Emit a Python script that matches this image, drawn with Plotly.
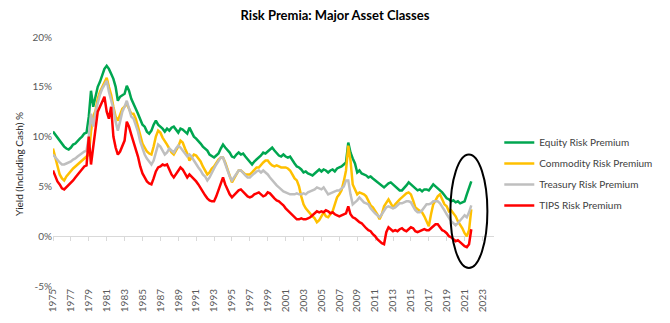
import pandas as pd
import plotly.graph_objects as go

# Quarterly observations, Jan 1975 .. Oct 2021
dates = pd.date_range("1975-01-01", "2021-10-01", freq="QS")

equity = [
    10.5, 10.2, 9.8, 9.6, 9.3, 9.0, 8.8, 8.7, 8.9, 9.2, 9.3, 9.6, 9.8, 10.0, 10.3, 10.4,
    12.0, 14.6, 13.0, 14.0, 15.0, 15.5, 16.2, 16.8, 17.1, 16.8, 16.3, 15.8, 15.0, 13.6, 14.0, 14.2,
    14.3, 15.1, 14.6, 13.8, 13.2, 12.8, 12.3, 11.8, 11.2, 11.0, 10.5, 10.3, 10.6, 11.2, 11.6, 11.2,
    11.0, 10.8, 10.5, 10.8, 10.6, 10.9, 11.0, 10.7, 10.4, 10.8, 10.7, 10.5, 10.3, 10.9, 10.4, 10.0,
    9.8, 9.6, 9.3, 9.0, 8.8, 8.6, 8.2, 8.0, 7.9, 8.1, 8.3, 8.8, 9.2, 8.9, 8.7, 8.4,
    8.0, 7.9, 8.2, 8.4, 8.2, 8.3, 8.0, 7.7, 7.4, 7.2, 7.5, 7.7, 7.9, 8.1, 8.4, 8.3,
    8.5, 8.7, 8.9, 8.6, 8.3, 8.1, 8.0, 8.2, 8.0, 7.9, 8.0, 7.6, 7.3, 7.0, 6.9, 6.7,
    6.4, 6.5, 6.3, 6.2, 6.1, 6.3, 6.5, 6.7, 6.5, 6.7, 6.6, 6.4, 6.6, 6.7, 6.5, 6.8,
    6.9, 7.0, 7.2, 7.4, 9.4, 8.4, 7.8, 7.3, 6.4, 6.6, 6.3, 6.2, 6.1, 5.9, 6.0, 5.8,
    5.6, 5.4, 5.2, 5.0, 4.9, 5.1, 5.3, 5.4, 5.2, 5.0, 4.8, 4.6, 4.6, 4.8, 5.1, 5.4,
    5.2, 5.0, 4.8, 4.6, 4.7, 4.5, 4.7, 4.7, 4.6, 4.9, 5.2, 5.0, 4.8, 4.6, 4.4, 4.1,
    3.8, 3.7, 3.5, 3.6, 3.4, 3.5, 3.3, 3.4, 3.5, 4.2, 4.9, 5.5,
]

commodity = [
    8.8, 8.0, 7.0, 6.2, 5.8, 5.6, 6.0, 6.3, 6.5, 6.8, 7.0, 7.2, 7.4, 7.6, 7.8, 8.0,
    8.2, 10.5, 12.0, 12.6, 13.8, 14.5, 15.0, 15.5, 15.9, 15.0, 14.2, 13.0, 12.0, 11.6, 12.2, 12.8,
    13.0, 13.3, 12.8, 12.3, 12.3, 11.8, 11.0, 10.0, 9.3, 8.9, 8.5, 8.3, 8.2, 9.0, 10.0, 10.6,
    10.4, 9.9, 9.6, 9.2, 8.8, 8.4, 8.2, 8.6, 9.0, 9.6, 9.4, 8.8, 8.3, 7.6, 7.9, 8.2,
    8.1, 7.8, 7.5, 7.0, 6.6, 6.2, 6.4, 6.8, 7.0, 7.4, 7.7, 7.9, 7.9, 7.4, 6.8, 6.0,
    5.4, 5.8, 6.2, 6.6, 6.6, 6.4, 6.2, 6.2, 6.2, 6.4, 6.6, 6.9, 6.9, 7.2, 7.4, 7.6,
    7.6, 7.3, 7.1, 7.0, 7.1, 7.0, 6.9, 6.9, 6.9, 6.8, 6.6, 6.2, 5.8, 5.6, 5.0, 4.0,
    3.2, 2.8, 2.5, 2.2, 2.0, 1.8, 1.4, 1.6, 2.0, 2.4, 2.0, 1.9, 2.2, 2.5, 3.2, 3.9,
    4.2, 4.6, 5.5, 6.6, 9.1, 7.6, 5.2, 4.6, 4.2, 4.4, 4.3, 4.2, 4.0, 3.6, 3.1, 2.9,
    2.6, 2.2, 1.7, 2.2, 3.0, 3.4, 3.7, 3.3, 2.9, 3.2, 3.5, 3.7, 3.9, 4.1, 4.3, 4.4,
    4.2, 3.6, 2.9, 2.7, 2.5, 2.4, 2.0, 1.5, 1.0, 2.2, 3.2, 3.6, 4.0, 4.2, 3.7, 3.2,
    3.0, 2.5, 2.6, 2.3, 2.0, 1.5, 1.2, 0.8, 0.3, 0.0, 0.6, 2.7,
]

treasury = [
    8.2, 7.9, 7.6, 7.4, 7.2, 7.2, 7.3, 7.4, 7.5, 7.7, 7.8, 8.0, 8.2, 8.3, 8.5, 8.6,
    10.0, 12.3, 11.0, 12.5, 13.5, 14.2, 14.8, 15.2, 15.6, 14.5, 13.6, 12.8, 11.5, 10.6, 11.5, 12.5,
    13.0, 13.6, 12.8, 12.0, 11.8, 11.2, 10.5, 9.5, 8.8, 8.2, 7.8, 7.5, 7.2, 7.6, 8.5, 9.2,
    9.0, 8.6, 8.2, 8.4, 8.8, 8.6, 8.4, 8.8, 9.1, 8.9, 8.6, 8.3, 8.0, 8.2, 8.0, 7.6,
    7.2, 6.9, 6.6, 6.2, 6.0, 5.6, 5.9, 6.4, 6.8, 7.2, 7.6, 7.9, 7.9, 7.2, 6.5, 6.0,
    5.6, 5.9, 6.3, 6.6, 6.6, 6.3, 6.1, 5.9, 5.9, 6.1, 6.3, 6.5, 6.6, 6.4, 6.6, 6.4,
    6.2, 5.9, 5.6, 5.3, 5.1, 4.9, 4.7, 4.5, 4.4, 4.3, 4.2, 4.2, 4.2, 4.3, 4.2, 4.2,
    4.3, 4.2, 4.4, 4.5, 4.6, 4.7, 4.9, 4.8, 4.7, 4.9, 4.5, 4.2, 4.3, 4.4, 4.5, 4.6,
    4.6, 4.8, 5.0, 5.6, 5.6, 4.2, 3.2, 3.4, 3.6, 3.9, 3.6, 3.4, 3.3, 3.2, 2.8, 2.5,
    2.3, 2.1, 1.9, 2.2, 2.6, 2.9, 3.0, 2.9, 2.8, 2.9, 3.1, 3.3, 3.3, 3.4, 3.5, 3.5,
    3.4, 3.0, 2.6, 2.4, 2.4, 2.6, 2.9, 3.2, 3.2, 3.3, 3.5, 3.5, 3.5, 3.3, 3.0, 2.6,
    2.2, 1.8, 1.5, 1.3, 1.1, 1.3, 1.6, 1.9, 2.1, 1.9, 2.4, 3.1,
]

tips = [
    6.6, 6.0, 5.5, 5.2, 4.8, 4.7, 4.9, 5.2, 5.4, 5.6, 5.9, 6.2, 6.4, 6.8, 7.0, 7.1,
    10.0, 7.2, 9.0, 11.0, 12.5, 13.0, 13.6, 14.0, 12.5, 11.8, 13.0, 10.0, 8.9, 8.2, 8.5, 9.0,
    9.6, 11.5, 11.0, 10.2, 9.5, 8.9, 8.0, 7.0, 6.3, 5.9, 5.5, 5.3, 5.2, 5.8, 6.5, 6.9,
    7.0, 7.2, 7.1, 7.2, 6.6, 6.2, 5.9, 6.2, 6.5, 6.9, 6.7, 6.3, 5.9, 6.2, 6.0, 5.7,
    5.5, 5.2, 4.8, 4.4, 4.1, 3.8, 3.6, 3.5, 3.5, 4.0, 4.6, 5.4, 5.9, 5.2, 4.6, 4.2,
    3.9, 4.1, 4.4, 4.6, 4.7, 4.5, 4.2, 4.0, 3.9, 4.0, 4.2, 4.3, 4.4, 4.2, 4.0, 4.1,
    4.4, 4.3, 4.0, 3.8, 3.6, 3.5, 3.3, 3.1, 2.8, 2.6, 2.4, 2.1, 1.9, 1.7, 1.7, 1.8,
    1.7, 1.7, 1.8, 1.9, 2.1, 2.3, 2.5, 2.4, 2.5, 2.4, 2.6, 2.5, 2.3, 2.4, 2.2, 2.1,
    2.0, 2.1, 2.2, 2.3, 3.0, 2.2, 1.9, 1.8, 1.6, 1.4, 1.3, 1.0, 0.8, 0.6, 0.5, 0.2,
    0.0, -0.3, -0.5, -0.7, -0.8, 0.4, 0.9, 0.7, 0.5, 0.6, 0.5, 0.7, 0.8, 0.6, 0.5, 0.7,
    0.9, 0.8, 0.5, 0.4, 0.5, 0.6, 0.7, 0.6, 0.6, 0.8, 1.0, 1.2, 1.2, 0.9, 0.6, 0.5,
    0.3, 0.0, -0.1, -0.3, -0.5, -0.4, -0.6, -0.8, -1.0, -1.1, -0.8, 0.7,
]

series_names = ["Equity Risk Premium", "Commodity Risk Premium",
                "Treasury Risk Premium", "TIPS Risk Premium"]
series_colors = ["#00A650", "#FFC000", "#BFBFBF", "#FF0000"]
tick_years = [str(y) for y in range(1975, 2024, 2)]
y_ticks = [-5, 0, 5, 10, 15, 20]

FONT = "Lato"
fig = go.Figure()
for name, vals, col in zip(series_names, [equity, commodity, treasury, tips], series_colors):
    fig.add_trace(go.Scatter(x=dates, y=vals, mode="lines", name=name,
                             line=dict(color=col, width=2.5), legendgroup=name))

# helper trace so the bottom label axis is drawn
fig.add_trace(go.Scatter(x=[dates[0]], y=[None], xaxis="x2", showlegend=False,
                         hoverinfo="skip", mode="lines"))

xr = ["1975-01-01", "2024-04-15"]
tickvals = [f"{y}-01-01" for y in tick_years]

fig.update_layout(
    width=670, height=323,
    margin=dict(l=53, r=168, t=37, b=37),
    paper_bgcolor="white", plot_bgcolor="white",
    font=dict(family=FONT, size=10, color="#595959"),
    title=dict(text="<b>Risk Premia: Major Asset Classes</b>", x=0.5, xref="container",
               y=1 - 15 / 323, yanchor="middle",
               font=dict(family=FONT, size=13, color="#000000")),
    showlegend=True,
    legend=dict(x=1.012, xanchor="left", y=0.635, yanchor="top",
                font=dict(family=FONT, size=10, color="#404040"),
                bgcolor="rgba(0,0,0,0)", traceorder="grouped", tracegroupgap=2),
    # zero-level axis line with tick marks (drawn beneath the data)
    xaxis=dict(type="date", range=xr, tickvals=tickvals, anchor="free", position=0.2,
               side="bottom", showline=True, linecolor="#D9D9D9", linewidth=1,
               ticks="outside", ticklen=4, tickcolor="#D9D9D9", showticklabels=False,
               showgrid=False, zeroline=False, layer="below traces"),
    # bottom labels axis
    xaxis2=dict(type="date", range=xr, tickvals=tickvals, ticktext=tick_years,
                overlaying="x", anchor="y", side="bottom",
                tickangle=-90, showgrid=False, zeroline=False, showline=False,
                ticks="", tickfont=dict(family=FONT, size=10, color="#595959")),
    yaxis=dict(range=[-5, 20], tickvals=y_ticks, ticktext=[f"{v}%" for v in y_ticks],
               showgrid=False, zeroline=False, showline=False,
               tickfont=dict(family=FONT, size=10, color="#595959")),
    shapes=[dict(type="circle", xref="x", yref="y",
                 x0="2019-06-01", x1="2023-07-20", y0=-3.2, y1=8.2,
                 line=dict(color="black", width=2))],
    annotations=[dict(text="Yield (Including Cash) %", textangle=-90,
                      xref="paper", yref="paper", x=-0.095, y=0.49,
                      showarrow=False, font=dict(family=FONT, size=10, color="#262626"))],
)

fig.write_html("out.html")
